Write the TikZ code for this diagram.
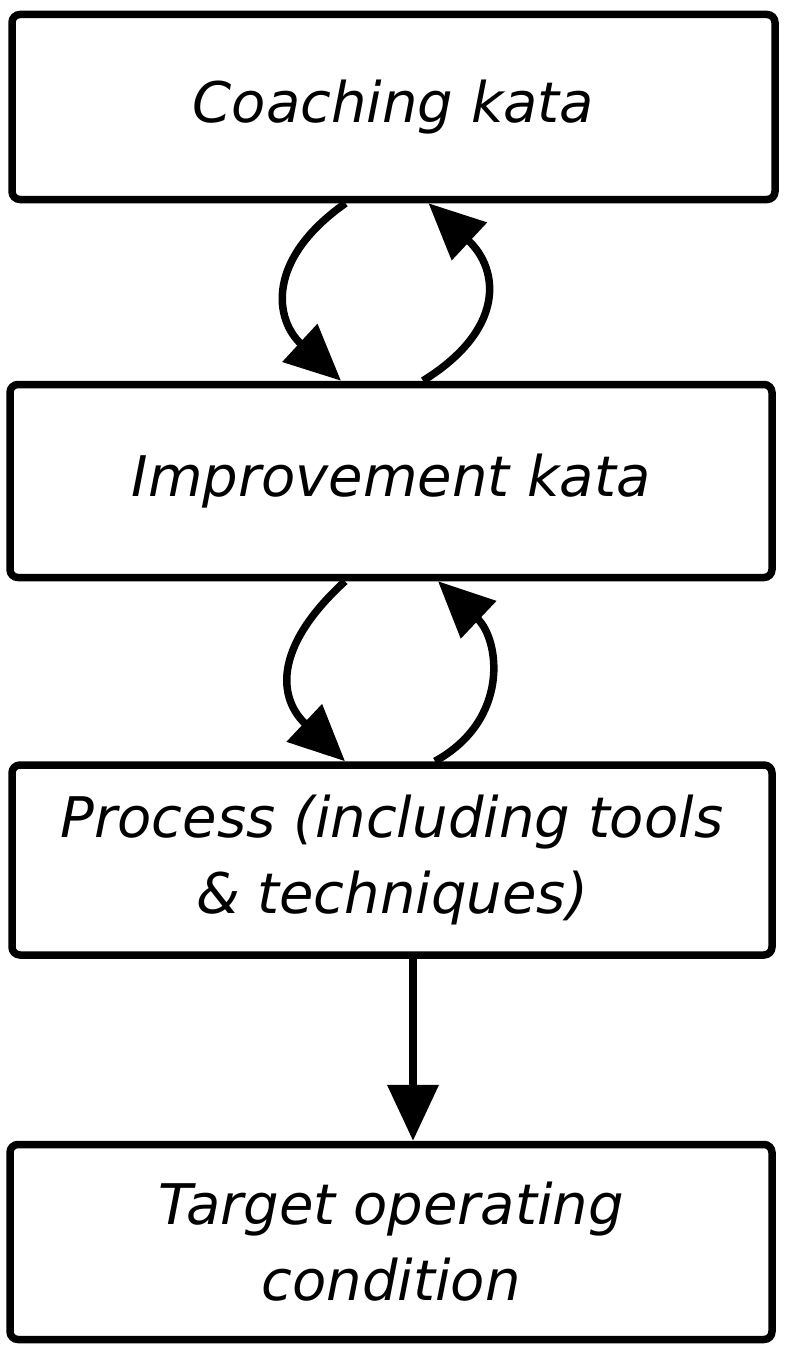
\documentclass[tikz,border=0pt]{standalone}
\usepackage{fontspec}
\setmainfont{DejaVu Sans}
\usetikzlibrary{arrows.meta}
\begin{document}
\begin{tikzpicture}[x=1pt,y=-1pt,
  box/.style={draw=black, line width=7.5pt, rounded corners=8pt, align=center,
    font=\fontsize{56}{76}\selectfont\itshape},
  arr/.style={line width=7.5pt, -{Triangle[length=56pt,width=50pt]}, line join=round}]
\useasboundingbox (0,0) rectangle (800,1362);
\node[box, minimum width=763pt, minimum height=185pt] (b1) at (393.5,107) {Coaching kata};
\node[box, minimum width=762pt, minimum height=193pt] (b2) at (391,481) {Improvement kata};
\node[box, minimum width=760pt, minimum height=190pt] (b3) at (392,860) {Process (including tools\\\& techniques)};
\node[box, minimum width=762pt, minimum height=195pt] (b4) at (391,1242) {Target operating\\condition};
\draw[arr] ([xshift=-48pt]b1.south) .. controls (265,260) and (275,320) .. ([xshift=-50pt]b2.north);
\draw[arr] ([xshift=32pt]b2.north) .. controls (505,330) and (500,270) .. ([xshift=35pt]b1.south);
\draw[arr] ([xshift=-46pt]b2.south) .. controls (270,650) and (280,700) .. ([xshift=-47pt]b3.north);
\draw[arr] ([xshift=43pt]b3.north) .. controls (510,720) and (500,640) .. ([xshift=47pt]b2.south);
\draw[arr] ([xshift=21pt]b3.south) -- ([xshift=22pt]b4.north);
\end{tikzpicture}
\end{document}
